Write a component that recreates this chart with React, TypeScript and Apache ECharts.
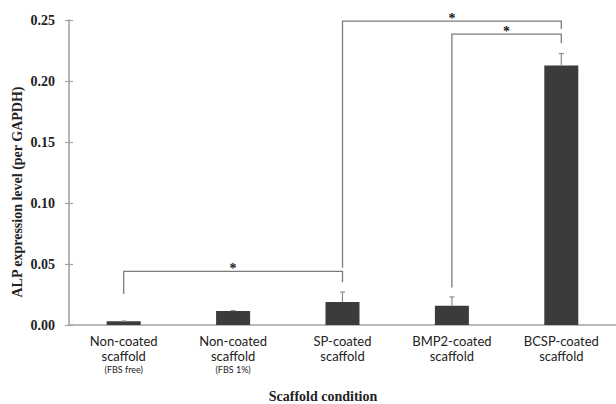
import React, { useEffect, useRef } from "react";
import * as echarts from "echarts";

const categories = [
  "Non-coated scaffold",
  "Non-coated scaffold",
  "SP-coated scaffold",
  "BMP2-coated scaffold",
  "BCSP-coated scaffold",
];
const labelLine1 = ["Non-coated", "Non-coated", "SP-coated", "BMP2-coated", "BCSP-coated"];
const labelLine2 = ["scaffold", "scaffold", "scaffold", "scaffold", "scaffold"];
const labelSub = ["(FBS free)", "(FBS 1%)", "", "", ""];

const alpValues = [0.003, 0.0115, 0.0188, 0.0158, 0.2128];
const alpErrors = [0.0002, 0.0003, 0.0082, 0.0072, 0.0097];

const yTicks = [0, 0.05, 0.1, 0.15, 0.2, 0.25];

// significance brackets: from category, to category, top level, left foot, right foot
const bracketFrom = [0, 2, 3];
const bracketTo = [2, 4, 4];
const bracketTop = [0.044, 0.249, 0.2385];
const bracketFootL = [0.0255, 0.047, 0.0307];
const bracketFootR = [0.035, 0.2426, 0.231];
const bracketMark = ["*", "*", "*"];

const AXIS_COLOR = "#a3a3a3";
const LINE_COLOR = "#7c7c7c";
const SERIF = "Liberation Serif";

export default function App() {
  const ref = useRef<HTMLDivElement>(null);

  useEffect(() => {
    if (!ref.current) return;
    const chart = echarts.init(ref.current, null, { renderer: "svg" });

    const option: any = {
      animation: false,
      backgroundColor: "#ffffff",
      grid: { left: 69, right: -5, top: 20, bottom: 79, containLabel: false },
      xAxis: {
        type: "category",
        data: categories,
        axisLine: { show: true, lineStyle: { color: AXIS_COLOR, width: 1.6 } },
        axisTick: { show: false },
        axisLabel: {
          interval: 0,
          margin: 8,
          formatter: (_v: string, i: number) =>
            `{a|${labelLine1[i]}}\n{a|${labelLine2[i]}}` + (labelSub[i] ? `\n{b|${labelSub[i]}}` : ""),
          rich: {
            a: { fontFamily: "Lato", fontSize: 13, lineHeight: 15, color: "#222" },
            b: { fontFamily: "Lato", fontSize: 9, lineHeight: 12, color: "#222" },
          },
        },
      },
      yAxis: [
        {
          type: "value",
          min: 0,
          max: 0.25,
          interval: 0.05,
          splitLine: { show: false },
          axisLine: { show: true, lineStyle: { color: AXIS_COLOR, width: 1.6 } },
          axisTick: { show: true, length: 4, lineStyle: { color: AXIS_COLOR, width: 1.2 } },
          axisLabel: {
            margin: 14,
            formatter: (v: number) => {
              const t = yTicks.find((k) => Math.abs(k - v) < 1e-9);
              return `{n|${(t !== undefined ? t : v).toFixed(2)}}`;
            },
            rich: {
              n: { fontFamily: SERIF, fontWeight: "bold", fontSize: 14, color: "#222" },
            },
          },
        },
        {
          type: "value",
          position: "left",
          min: 0,
          max: 0.25,
          interval: 0.05,
          splitLine: { show: false },
          axisLine: { show: false },
          axisTick: { show: true, inside: true, length: 4, lineStyle: { color: AXIS_COLOR, width: 1.2 } },
          axisLabel: { show: false },
        },
      ],
      graphic: [
        {
          type: "text",
          x: 17,
          y: 192,
          rotation: Math.PI / 2,
          style: {
            text: "ALP expression level (per GAPDH)",
            fontFamily: SERIF,
            fontWeight: "bold",
            fontSize: 14,
            fill: "#222",
            align: "center",
            verticalAlign: "middle",
          },
        },
        {
          type: "text",
          x: 323,
          y: 396,
          style: {
            text: "Scaffold condition",
            fontFamily: SERIF,
            fontWeight: "bold",
            fontSize: 14,
            fill: "#222",
            align: "center",
            verticalAlign: "middle",
          },
        },
      ],
      series: [
        {
          type: "bar",
          data: alpValues,
          barWidth: 34,
          itemStyle: { color: "#3b3b3b" },
          z: 2,
        },
        {
          type: "custom",
          data: alpValues.map((v, i) => [i, v, v + alpErrors[i]]),
          encode: { x: 0, y: [1, 2] },
          z: 3,
          renderItem: (_p: any, api: any) => {
            const i = api.value(0);
            const lo = api.coord([i, api.value(1)]);
            const hi = api.coord([i, api.value(2)]);
            return {
              type: "group",
              children: [
                {
                  type: "line",
                  shape: { x1: lo[0], y1: lo[1], x2: hi[0], y2: hi[1] },
                  style: { stroke: "#8a8a8a", lineWidth: 1.2 },
                },
                {
                  type: "line",
                  shape: { x1: hi[0] - 2.5, y1: hi[1], x2: hi[0] + 2.5, y2: hi[1] },
                  style: { stroke: "#8a8a8a", lineWidth: 1.2 },
                },
              ],
            };
          },
        },
        {
          type: "custom",
          clip: false,
          data: bracketFrom.map((f, i) => [f, bracketTo[i], bracketTop[i], bracketFootL[i], bracketFootR[i]]),
          encode: { x: [0, 1], y: [2, 3, 4] },
          z: 4,
          renderItem: (p: any, api: any) => {
            const x1 = api.value(0);
            const x2 = api.value(1);
            const yt = api.value(2);
            const p1b = api.coord([x1, api.value(3)]);
            const p1t = api.coord([x1, yt]);
            const p2t = api.coord([x2, yt]);
            const p2b = api.coord([x2, api.value(4)]);
            return {
              type: "group",
              children: [
                {
                  type: "polyline",
                  shape: { points: [p1b, p1t, p2t, p2b] },
                  style: { stroke: LINE_COLOR, lineWidth: 1.3, fill: null },
                },
                {
                  type: "text",
                  x: (p1t[0] + p2t[0]) / 2,
                  y: p1t[1] - 3,
                  style: {
                    text: bracketMark[p.dataIndex],
                    fontFamily: SERIF,
                    fontWeight: "bold",
                    fontSize: 14,
                    fill: "#1a1a1a",
                    align: "center",
                    verticalAlign: "middle",
                  },
                },
              ],
            };
          },
        },
      ],
    };

    chart.setOption(option);
    return () => chart.dispose();
  }, []);

  return (
    <div
      ref={ref}
      style={{ position: "fixed", left: 0, top: 0, width: 616, height: 404, background: "#fff" }}
    />
  );
}
